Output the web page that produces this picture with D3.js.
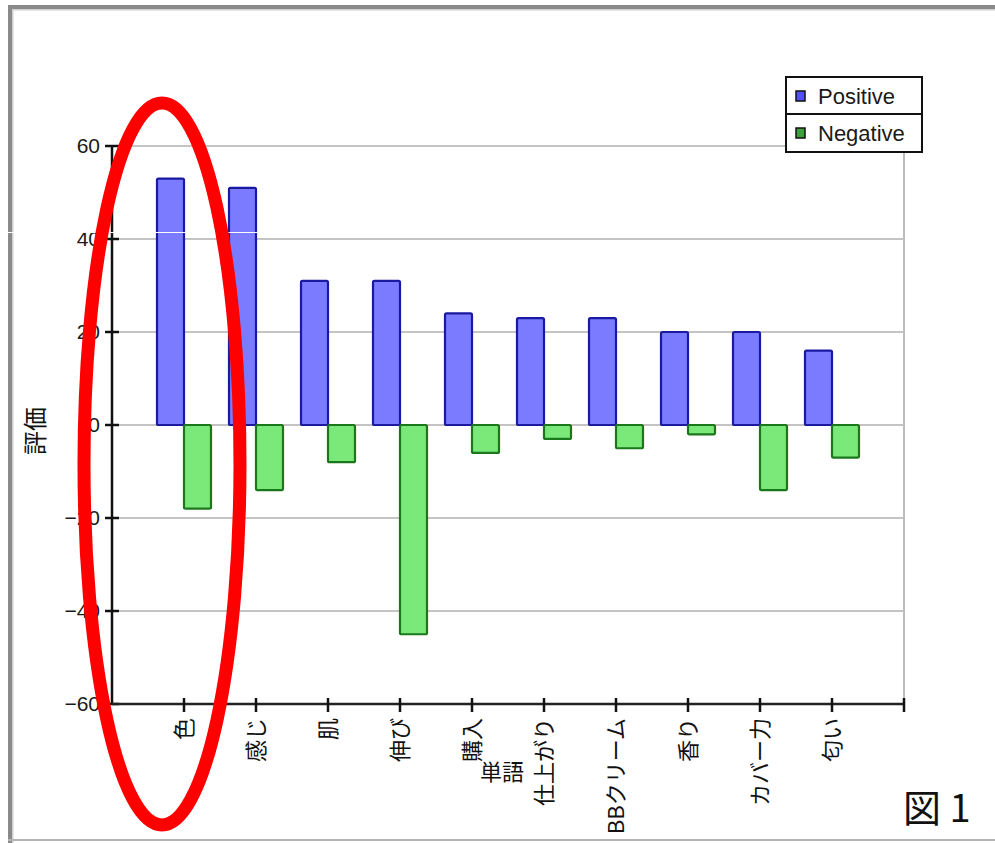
<!DOCTYPE html>
<html><head><meta charset="utf-8">
<script src="https://cdn.jsdelivr.net/npm/d3@7"></script>
<style>
html,body{margin:0;padding:0;background:#fff;}
svg{display:block;}
</style></head>
<body>
<svg id="chart" width="995" height="843"></svg>
<script>
const categories = ["色","感じ","肌","伸び","購入","仕上がり","BBクリーム","香り","カバー力","匂い"];
const positive = [53,51,31,31,24,23,23,20,20,16];
const negative = [-18,-14,-8,-45,-6,-3,-5,-2,-14,-7];
const yTicks = [-60,-40,-20,0,20,40,60];
const seriesNames = ["Positive","Negative"];
const yTitle = "評価";
const figLabel = "図 1";
const overlayLabel = "単語";

(function(){
const svg = d3.select("#chart");
svg.append("rect").attr("width",995).attr("height",843).attr("fill","#fff");

// outer frame
svg.append("rect").attr("x",8).attr("y",5).attr("width",995).attr("height",4).attr("fill","#8a8a8a");
svg.append("rect").attr("x",11).attr("y",9).attr("width",995).attr("height",1.5).attr("fill","#d0d0d0");
svg.append("rect").attr("x",8).attr("y",5).attr("width",4).attr("height",840).attr("fill","#8a8a8a");
svg.append("rect").attr("x",12).attr("y",9).attr("width",1.5).attr("height",840).attr("fill","#d0d0d0");
svg.append("rect").attr("x",8).attr("y",839).attr("width",995).attr("height",2).attr("fill","#b4b4b4");

const pL = 112, pR = 905, pT = 146, pB = 704;
const y = d3.scaleLinear().domain([-60,60]).range([pB, pT]);
const x = d3.scalePoint().domain(categories).range([184, 832]);
const bw = 27;

// gridlines
svg.append("g").selectAll("line").data(yTicks).join("line")
  .attr("x1",pL).attr("x2",pR)
  .attr("y1",d=>y(d)).attr("y2",d=>y(d))
  .attr("stroke","#c4c4c4").attr("stroke-width",2);
// right border of plot
svg.append("line").attr("x1",pR-1).attr("x2",pR-1).attr("y1",pT).attr("y2",pB)
  .attr("stroke","#bdbdbd").attr("stroke-width",2);

// bars
const gb = svg.append("g");
gb.selectAll("rect.pos").data(categories).join("rect").attr("class","pos")
  .attr("x",d=>x(d)-bw).attr("width",bw)
  .attr("y",(d,i)=>y(positive[i])).attr("height",(d,i)=>y(0)-y(positive[i]))
  .attr("rx",1.5).attr("fill","#7b7bff").attr("stroke","#1a1aa0").attr("stroke-width",2.2);
gb.selectAll("rect.neg").data(categories).join("rect").attr("class","neg")
  .attr("x",d=>x(d)).attr("width",bw)
  .attr("y",y(0)).attr("height",(d,i)=>y(negative[i])-y(0))
  .attr("rx",1.5).attr("fill","#7ae97a").attr("stroke","#1b771b").attr("stroke-width",2.2);

// y axis
const yAxis = d3.axisLeft(y).tickValues(yTicks).tickSize(0).tickPadding(12);
const ga = svg.append("g").attr("transform",`translate(${pL},0)`).call(yAxis);
ga.select(".domain").remove();
ga.selectAll("text").attr("font-family","'Liberation Sans', Arial, sans-serif")
  .attr("font-size",21).attr("fill","#1a1a1a");
svg.append("line").attr("x1",pL).attr("x2",pL).attr("y1",pT).attr("y2",pB+1)
  .attr("stroke","#111").attr("stroke-width",2.5);
svg.append("g").selectAll("line").data(yTicks).join("line")
  .attr("x1",pL-7).attr("x2",pL+7).attr("y1",d=>y(d)).attr("y2",d=>y(d))
  .attr("stroke","#111").attr("stroke-width",2.5);

// x axis
svg.append("line").attr("x1",pL).attr("x2",pR).attr("y1",pB).attr("y2",pB)
  .attr("stroke","#222").attr("stroke-width",2.5);
const xTickPos = categories.map(d=>x(d)).concat([x(categories[categories.length-1]) + x.step()]);
svg.append("g").selectAll("line").data(xTickPos).join("line")
  .attr("x1",d=>d).attr("x2",d=>d).attr("y1",pB-6).attr("y2",pB+8)
  .attr("stroke","#111").attr("stroke-width",2.5);
svg.append("g").selectAll("text").data(categories).join("text")
  .attr("transform",d=>`translate(${x(d)+8},${pB+14}) rotate(-90)`)
  .attr("text-anchor","end")
  .attr("font-family","'Noto Sans CJK JP', sans-serif")
  .attr("font-size",22).attr("fill","#111")
  .text(d=>d);
// overlapping extra label under 購入
svg.append("text").attr("x",x("購入")+8).attr("y",pB+76)
  .attr("font-family","'Noto Sans CJK JP', sans-serif")
  .attr("font-size",22).attr("fill","#111").text(overlayLabel);

// y title
svg.append("text").attr("transform","translate(44,431) rotate(-90)")
  .attr("text-anchor","middle")
  .attr("font-family","'Noto Sans CJK JP', sans-serif")
  .attr("font-size",24).attr("fill","#111").text(yTitle);

// legend
const lg = svg.append("g");
lg.append("rect").attr("x",786).attr("y",77).attr("width",136).attr("height",75)
  .attr("fill","#fff").attr("stroke","#111").attr("stroke-width",2);
lg.append("line").attr("x1",786).attr("x2",922).attr("y1",114).attr("y2",114)
  .attr("stroke","#111").attr("stroke-width",2);
const legColors = ["#4f4fff","#3f9f3f"];
seriesNames.forEach((s,i)=>{
  const cy = 96 + i*37;
  lg.append("rect").attr("x",796).attr("y",cy-5).attr("width",9).attr("height",10)
    .attr("fill",legColors[i]).attr("stroke","#111").attr("stroke-width",1.5);
  lg.append("text").attr("x",818).attr("y",cy).attr("dy","0.36em")
    .attr("font-family","'Liberation Sans', Arial, sans-serif")
    .attr("font-size",22).attr("fill","#1a1a1a").text(s);
});

// artifact white line
svg.append("line").attr("x1",0).attr("x2",258).attr("y1",232.5).attr("y2",232.5)
  .attr("stroke","#fff").attr("stroke-width",1.2);

// red ellipse annotation
svg.append("ellipse").attr("cx",162).attr("cy",464).attr("rx",78).attr("ry",361)
  .attr("fill","none").attr("stroke","#ff0000").attr("stroke-width",13);

// figure label
svg.append("text").attr("x",903).attr("y",822)
  .attr("font-family","'Noto Sans CJK JP', sans-serif")
  .attr("font-size",38).attr("fill","#111").text(figLabel);
})();
</script>
</body></html>
